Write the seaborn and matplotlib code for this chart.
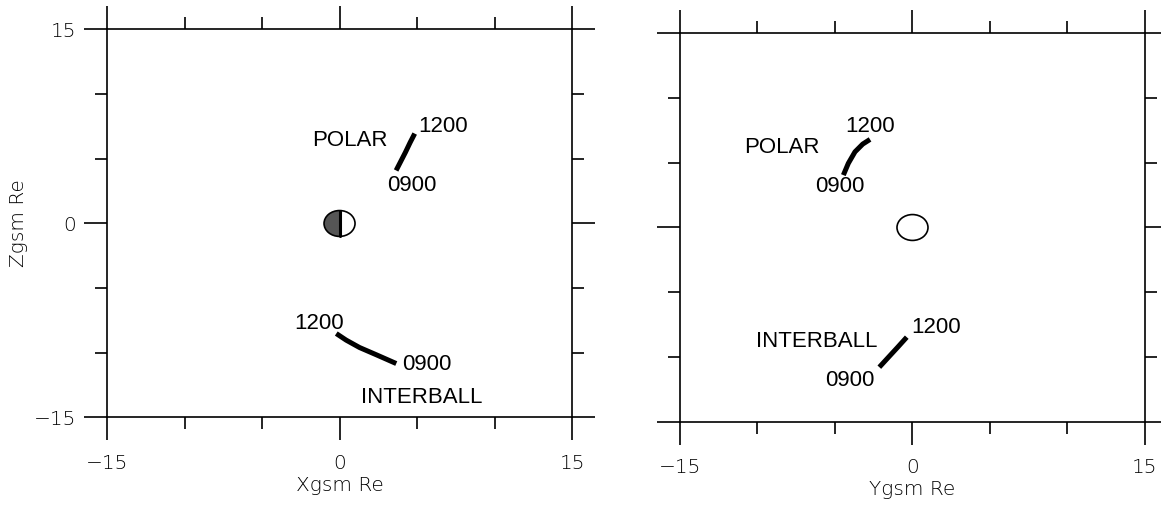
import numpy as np
import pandas as pd
import seaborn as sns
import matplotlib
matplotlib.use("Agg")
import matplotlib.pyplot as plt
from matplotlib.patches import Ellipse, Wedge

# ---------------- data ----------------
# Left panel (X-Z GSM plane), points read along each track from 0900 to 1200
polar_xz_x = [3.65, 3.95, 4.25, 4.55, 4.85]
polar_xz_z = [4.1, 4.8, 5.5, 6.25, 6.95]
inter_xz_x = [3.66, 2.37, 1.29, 0.43, -0.21]
inter_xz_z = [-10.83, -10.15, -9.59, -9.02, -8.51]

# Right panel (Y-Z GSM plane)
polar_yz_y = [-4.46, -4.14, -3.71, -3.21, -2.74]
polar_yz_z = [4.05, 4.96, 5.85, 6.45, 6.81]
inter_yz_y = [-2.14, -1.55, -0.95, -0.37]
inter_yz_z = [-10.8, -10.03, -9.25, -8.48]

axis_ticks = [-15, 0, 15]
minor_ticks = [-10, -5, 5, 10]
tick_labels = ["\u221215", "0", "15"]

sns.set_style("white")
plt.rcParams["font.family"] = ["Liberation Sans", "DejaVu Sans"]
plt.rcParams["text.color"] = "black"
plt.rcParams["axes.labelcolor"] = "black"
plt.rcParams["xtick.color"] = "black"
plt.rcParams["ytick.color"] = "black"

fig = plt.figure(figsize=(11.61, 5.09), dpi=100)
axL = fig.add_axes([0.0922, 0.1798, 0.4005, 0.7623])
axR = fig.add_axes([0.5857, 0.1719, 0.4005, 0.7623])

tick_font = dict(family=["DejaVu Sans"], weight="light", size=14.5, color="black")
ann = dict(fontsize=16, family=["Liberation Sans"], ha="center", va="center", color="black")


def style(ax, xlabel, ylabel, show_y):
    ax.set_xlim(-15, 15)
    ax.set_ylim(-15, 15)
    for s in ax.spines.values():
        s.set_visible(True)
        s.set_linewidth(1.2)
        s.set_color("black")
    ax.set_xticks(axis_ticks)
    ax.set_yticks(axis_ticks)
    ax.set_xticks(minor_ticks, minor=True)
    ax.set_yticks(minor_ticks, minor=True)
    ax.tick_params(which="both", direction="out", top=True, bottom=True,
                   left=True, right=True, width=1.2, color="black")
    ax.tick_params(which="major", length=16.5)
    ax.tick_params(which="minor", length=8.5)
    ax.tick_params(axis="x", which="major", pad=10)
    ax.tick_params(axis="y", which="major", pad=6)
    ax.set_xticklabels(tick_labels, fontdict=tick_font)
    if show_y:
        ax.set_yticklabels(tick_labels, fontdict=tick_font)
    else:
        ax.set_yticklabels([])
    ax.set_xlabel(xlabel, fontdict=tick_font, labelpad=2)
    if ylabel:
        ax.set_ylabel(ylabel, fontdict=tick_font, labelpad=4)
    else:
        ax.set_ylabel("")
    ax.grid(False)


def track(ax, xs, ys):
    df = pd.DataFrame({"x": xs, "y": ys})
    sns.lineplot(data=df, x="x", y="y", sort=False, ax=ax, color="black",
                 linewidth=3.6, solid_capstyle="butt", solid_joinstyle="round",
                 estimator=None)


# ---- left panel ----
track(axL, polar_xz_x, polar_xz_z)
track(axL, inter_xz_x, inter_xz_z)
axL.text(0.65, 6.4, "POLAR", **ann)
axL.text(6.7, 7.5, "1200", **ann)
axL.text(4.65, 2.94, "0900", **ann)
axL.text(-1.35, -7.72, "1200", **ann)
axL.text(5.65, -10.87, "0900", **ann)
axL.text(5.32, -13.46, "INTERBALL", **ann)
axL.add_patch(Wedge((0, 0), 1.0, 90, 270, facecolor="#555555", edgecolor="none", zorder=3))
axL.add_patch(Ellipse((0, 0), 2.0, 2.0, facecolor="none", edgecolor="black", linewidth=1.2, zorder=4))
axL.plot([0, 0], [-1.0, 1.0], color="black", linewidth=2.2, zorder=5)
style(axL, "Xgsm Re", "Zgsm Re", True)

# ---- right panel ----
track(axR, polar_yz_y, polar_yz_z)
track(axR, inter_yz_y, inter_yz_z)
axR.text(-8.42, 6.2, "POLAR", **ann)
axR.text(-2.74, 7.84, "1200", **ann)
axR.text(-4.71, 3.17, "0900", **ann)
axR.text(-6.18, -8.8, "INTERBALL", **ann)
axR.text(1.52, -7.72, "1200", **ann)
axR.text(-4.03, -11.8, "0900", **ann)
axR.add_patch(Ellipse((0, 0), 2.0, 2.0, facecolor="white", edgecolor="black", linewidth=1.2, zorder=4))
style(axR, "Ygsm Re", None, False)

fig.savefig("out.png", dpi=100)
